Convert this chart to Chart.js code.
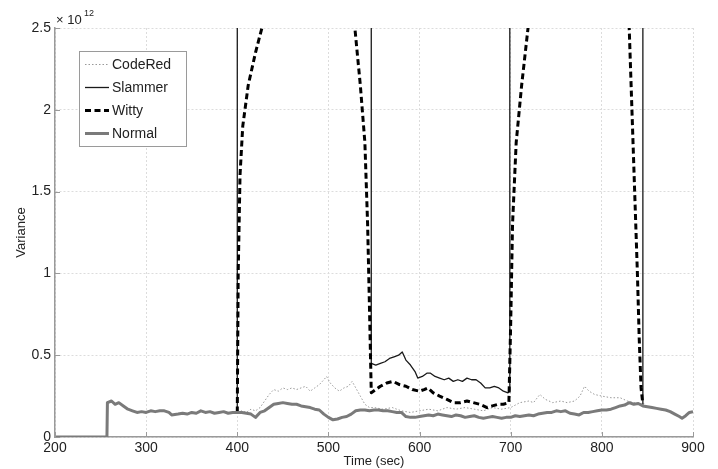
<!DOCTYPE html>
<html>
<head>
<meta charset="utf-8">
<script src="https://cdn.jsdelivr.net/npm/chart.js@4/dist/chart.umd.min.js"></script>
<style>
  html, body { margin: 0; padding: 0; background: #fff; }
  #wrap { width: 718px; height: 469px; position: relative; }
</style>
</head>
<body>
<div id="wrap"><canvas id="grafico" width="718" height="469"></canvas></div>
<script>
// variance in units of 10^12, time in seconds
const normalT = [200, 257, 257.5, 262, 266, 270, 275, 280, 285, 290, 295, 300, 305, 310, 315, 320, 325, 328, 335, 340,
  345, 350, 355, 360, 365, 370, 375, 380, 385, 390, 395, 400, 405, 410, 415, 420, 425, 430, 435, 440,
  445, 450, 455, 460, 465, 470, 475, 480, 485, 490, 495, 500, 505, 510, 515, 520, 525, 530, 535, 540,
  545, 550, 555, 560, 565, 570, 575, 580, 585, 590, 595, 600, 605, 610, 615, 620, 625, 630, 635, 640,
  645, 650, 655, 660, 665, 670, 675, 680, 685, 690, 695, 700, 705, 710, 715, 720, 725, 730, 735, 740,
  745, 750, 755, 760, 765, 770, 775, 780, 785, 790, 795, 800, 805, 810, 815, 820, 825, 830, 835, 840,
  845, 850, 855, 860, 865, 870, 875, 880, 885, 888, 892, 896, 900];
const normalV = [0, 0, 0.21, 0.22, 0.2, 0.21, 0.19, 0.17, 0.16, 0.15, 0.155, 0.15, 0.16, 0.155, 0.16, 0.16, 0.15, 0.135, 0.14, 0.145,
  0.14, 0.15, 0.145, 0.16, 0.15, 0.155, 0.145, 0.15, 0.155, 0.145, 0.15, 0.15, 0.15, 0.145, 0.14, 0.12, 0.15, 0.16, 0.18, 0.2,
  0.205, 0.21, 0.205, 0.2, 0.2, 0.19, 0.185, 0.18, 0.17, 0.165, 0.14, 0.12, 0.105, 0.11, 0.12, 0.125, 0.14, 0.16, 0.165, 0.165,
  0.16, 0.165, 0.165, 0.16, 0.16, 0.155, 0.15, 0.15, 0.125, 0.12, 0.12, 0.125, 0.13, 0.135, 0.13, 0.14, 0.135, 0.13, 0.125, 0.135,
  0.13, 0.12, 0.125, 0.13, 0.12, 0.115, 0.12, 0.125, 0.12, 0.115, 0.12, 0.12, 0.13, 0.125, 0.13, 0.135, 0.13, 0.14, 0.145, 0.15,
  0.15, 0.16, 0.155, 0.16, 0.145, 0.14, 0.135, 0.15, 0.15, 0.155, 0.16, 0.165, 0.165, 0.17, 0.18, 0.19, 0.195, 0.21, 0.2, 0.205,
  0.19, 0.185, 0.18, 0.175, 0.17, 0.165, 0.155, 0.14, 0.125, 0.115, 0.13, 0.15, 0.155];

const codeRedT = [400, 405, 410, 415, 420, 425, 430, 435, 440, 445, 450, 455, 460, 465, 470, 475, 480, 485, 490, 495,
  498, 502, 507, 512, 517, 522, 526, 530, 535, 540, 545, 550, 560, 570, 580, 590, 600, 610, 620, 630,
  640, 650, 660, 670, 680, 690, 700, 710, 720, 725, 732, 738, 746, 755, 762, 770, 776, 781, 786, 792,
  800, 810, 820, 828, 835, 845];
const codeRedV = [0.15, 0.16, 0.15, 0.17, 0.16, 0.18, 0.22, 0.26, 0.29, 0.28, 0.3, 0.29, 0.3, 0.29, 0.3, 0.31, 0.28, 0.3, 0.32, 0.35,
  0.37, 0.33, 0.3, 0.28, 0.3, 0.31, 0.34, 0.3, 0.25, 0.2, 0.18, 0.18, 0.17, 0.18, 0.16, 0.15, 0.16, 0.17, 0.16, 0.18,
  0.17, 0.18, 0.17, 0.16, 0.18, 0.17, 0.18, 0.21, 0.22, 0.21, 0.26, 0.23, 0.21, 0.22, 0.21, 0.22, 0.25, 0.31, 0.28, 0.26,
  0.25, 0.24, 0.24, 0.22, 0.21, 0.2];

const slammerT = [400, 400, 547, 547, 552, 557, 562, 567, 572, 577, 581, 585, 590, 595, 598, 603, 608, 612, 617, 622,
  627, 632, 637, 642, 647, 652, 657, 662, 667, 672, 677, 682, 687, 692, 697, 699, 699, 845, 845];
const slammerV = [0.15, 4, 4, 0.45, 0.44, 0.45, 0.46, 0.48, 0.49, 0.5, 0.52, 0.47, 0.44, 0.4, 0.36, 0.37, 0.39, 0.39, 0.37, 0.36,
  0.35, 0.36, 0.34, 0.35, 0.34, 0.36, 0.35, 0.35, 0.33, 0.3, 0.3, 0.31, 0.3, 0.28, 0.27, 0.28, 4, 4, 0.2];

const wittyT = [400, 401, 403, 406, 412, 420, 427, 440, 520, 529, 535, 540, 543, 545, 547, 552, 557, 564, 571, 578,
  585, 592, 600, 605, 609, 615, 622, 630, 637, 645, 652, 659, 666, 674, 680, 686, 692, 698, 700, 702,
  706, 712, 719, 730, 820, 830, 833, 836, 839, 841, 843, 845];
const wittyV = [0.15, 1.0, 1.6, 1.9, 2.15, 2.35, 2.5, 3, 3, 2.5, 2.15, 1.8, 1.3, 0.8, 0.27, 0.29, 0.31, 0.33, 0.34, 0.32,
  0.31, 0.29, 0.28, 0.29, 0.3, 0.27, 0.25, 0.23, 0.21, 0.21, 0.22, 0.21, 0.2, 0.18, 0.19, 0.2, 0.2, 0.21, 0.7, 1.3,
  1.8, 2.15, 2.5, 3, 3, 2.5, 2.0, 1.5, 1.0, 0.6, 0.3, 0.2];

const xTicks = [200, 300, 400, 500, 600, 700, 800, 900];
const yTicks = [0, 0.5, 1, 1.5, 2, 2.5];

const FONT = "'Liberation Sans', Arial, Helvetica, sans-serif";

const toPoints = (t, v) => t.map((x, i) => ({ x: x, y: v[i] }));

// inward tick marks, the x10^12 exponent and the boxed legend
const extras = {
  id: "extras",
  afterDraw(chart) {
    const ctx = chart.ctx;
    const area = chart.chartArea;
    const xs = chart.scales.x, ys = chart.scales.y;

    ctx.save();
    ctx.strokeStyle = "#9a9a9a";
    ctx.lineWidth = 1;
    ctx.beginPath();
    xTicks.forEach((t) => {
      const px = Math.round(xs.getPixelForValue(t)) + 0.5;
      ctx.moveTo(px, area.bottom);
      ctx.lineTo(px, area.bottom - 5);
    });
    yTicks.forEach((t) => {
      const py = Math.round(ys.getPixelForValue(t)) + 0.5;
      ctx.moveTo(area.left, py);
      ctx.lineTo(area.left + 5, py);
    });
    ctx.stroke();

    // exponent
    ctx.fillStyle = "#222";
    ctx.textBaseline = "alphabetic";
    ctx.textAlign = "left";
    ctx.font = "13px " + FONT;
    ctx.fillText("\u00d7 10", area.left + 1, area.top - 4);
    ctx.font = "9px " + FONT;
    ctx.fillText("12", area.left + 29, area.top - 12);

    // legend
    const lx = 79, ly = 51, lw = 107, lh = 95;
    ctx.fillStyle = "#fff";
    ctx.fillRect(lx, ly, lw, lh);
    ctx.strokeStyle = "#9a9a9a";
    ctx.lineWidth = 1;
    ctx.strokeRect(lx + 0.5, ly + 0.5, lw, lh);

    const rows = [64, 87, 110, 133];
    ["CodeRed", "Slammer", "Witty", "Normal"].forEach((name, i) => {
      const ds = chart.data.datasets.find((d) => d.label === name);
      ctx.save();
      ctx.strokeStyle = ds.borderColor;
      ctx.lineWidth = ds.borderWidth;
      ctx.setLineDash(ds.borderDash || []);
      ctx.beginPath();
      ctx.moveTo(85, rows[i] + 0.5);
      ctx.lineTo(109, rows[i] + 0.5);
      ctx.stroke();
      ctx.restore();
      ctx.fillStyle = "#222";
      ctx.font = "14px " + FONT;
      ctx.textBaseline = "middle";
      ctx.fillText(name, 112, rows[i] + 1);
    });
    ctx.restore();
  },
};

const ctx = document.getElementById("grafico").getContext("2d");
const myChart = new Chart(ctx, {
  type: "line",
  data: {
    datasets: [
      {
        label: "Normal",
        data: toPoints(normalT, normalV),
        borderColor: "#7a7a7a",
        borderWidth: 3,
        order: 0,
      },
      {
        label: "Witty",
        data: toPoints(wittyT, wittyV),
        borderColor: "#000",
        borderWidth: 3,
        borderDash: [6, 3.5],
        order: 1,
      },
      {
        label: "Slammer",
        data: toPoints(slammerT, slammerV),
        borderColor: "#1a1a1a",
        borderWidth: 1.3,
        order: 2,
      },
      {
        label: "CodeRed",
        data: toPoints(codeRedT, codeRedV),
        borderColor: "#999",
        borderWidth: 1,
        borderDash: [1.5, 2],
        order: 3,
      },
    ],
  },
  options: {
    responsive: false,
    animation: false,
    events: [],
    layout: { padding: { left: 0, right: 25, top: 28, bottom: 0 } },
    elements: {
      point: { radius: 0 },
      line: { tension: 0, borderJoinStyle: "round" },
    },
    plugins: {
      legend: { display: false },
      tooltip: { enabled: false },
    },
    scales: {
      x: {
        type: "linear",
        min: 200,
        max: 900,
        afterFit: (s) => { s.height = 32; },
        afterBuildTicks: (s) => { s.ticks = xTicks.map((v) => ({ value: v })); },
        grid: { color: "#dcdcdc", lineWidth: 1, drawTicks: false },
        border: { display: true, color: "#9a9a9a", width: 1.5, dash: [2, 2] },
        ticks: {
          padding: 3,
          color: "#222",
          font: { family: FONT, size: 14 },
          maxRotation: 0,
        },
        title: {
          display: true,
          text: "Time (sec)",
          color: "#222",
          font: { family: FONT, size: 13 },
          padding: { top: 0, bottom: 0 },
        },
      },
      y: {
        min: 0,
        max: 2.5,
        afterFit: (s) => { s.width = 55; },
        afterBuildTicks: (s) => { s.ticks = yTicks.map((v) => ({ value: v })); },
        grid: { color: "#dcdcdc", lineWidth: 1, drawTicks: false },
        border: { display: true, color: "#9a9a9a", width: 1.5, dash: [2, 2] },
        ticks: {
          padding: 4,
          color: "#222",
          font: { family: FONT, size: 14 },
          callback: (v) => String(v),
        },
        title: {
          display: true,
          text: "Variance",
          color: "#222",
          font: { family: FONT, size: 13 },
          padding: { top: 14, bottom: 0 },
        },
      },
    },
  },
  plugins: [extras],
});
</script>
</body>
</html>
